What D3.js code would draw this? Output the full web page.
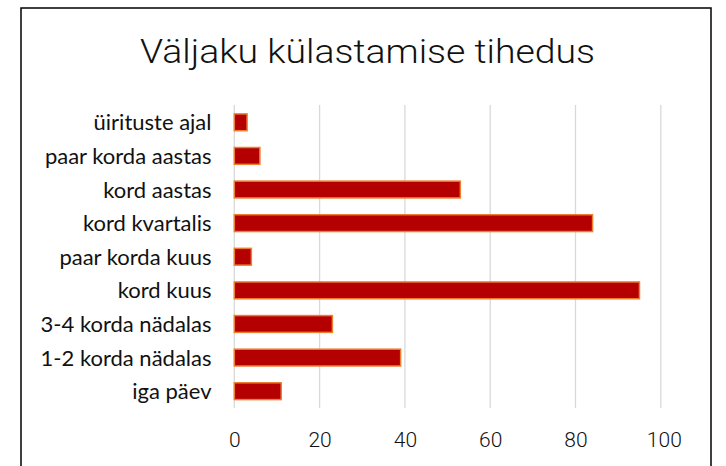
<!DOCTYPE html>
<html><head><meta charset="utf-8">
<script src="https://cdn.jsdelivr.net/npm/d3@7"></script>
<style>body{margin:0;background:#fff}</style>
</head><body>
<svg id="c" width="726" height="466"></svg>
<script>
const title = "Väljaku külastamise tihedus";
const categories = ["üirituste ajal","paar korda aastas","kord aastas","kord kvartalis","paar korda kuus","kord kuus","3-4 korda nädalas","1-2 korda nädalas","iga päev"];
const values = [3,6,53,84,4,95,23,39,11];
const ticks = [0,20,40,60,80,100];

const svg = d3.select("#c");
svg.append("rect").attr("x",21).attr("y",8).attr("width",690).attr("height",470)
  .attr("fill","#fff").attr("stroke","#000").attr("stroke-width",1.5);

svg.append("text").attr("x",367.5).attr("y",63).attr("text-anchor","middle")
  .attr("font-family","Roboto").attr("font-weight",300).attr("font-size",34)
  .attr("textLength",455).attr("lengthAdjust","spacingAndGlyphs")
  .attr("fill","#111").text(title);

const x = d3.scaleLinear().domain([0,100]).range([234.3,660.8]);
const y = d3.scaleBand().domain(categories).range([105.5,408]).paddingInner(0.5).paddingOuter(0.25);

svg.append("g").selectAll("line").data(ticks).join("line")
  .attr("x1",d=>x(d)).attr("x2",d=>x(d)).attr("y1",105).attr("y2",408)
  .attr("stroke","#d9d9d9").attr("stroke-width",1.3);

const xa = svg.append("g").attr("transform","translate(0,447)")
  .call(d3.axisBottom(x).tickValues(ticks).tickSize(0).tickPadding(0).tickFormat(d3.format("d")));
xa.select(".domain").remove();
xa.selectAll("text").attr("font-family","Roboto").attr("font-weight",300).attr("font-size",21)
  .attr("fill","#111").attr("dy",0).attr("y",0).attr("dx",d=>d===100?3:0);

const ya = svg.append("g").attr("transform","translate(211.5,0)")
  .call(d3.axisLeft(y).tickSize(0).tickPadding(0));
ya.select(".domain").remove();
const lbl = ya.selectAll("text").attr("font-family","Lato").attr("font-size",20).attr("fill","#111")
  .attr("dy",0).attr("y",8);
let w = 0; lbl.each(function(){ w = Math.max(w, this.getComputedTextLength()); });
lbl.attr("font-size",20*171/w);

svg.append("g").selectAll("rect").data(categories).join("rect")
  .attr("x",x(0)).attr("y",d=>y(d)).attr("width",(d,i)=>x(values[i])-x(0)).attr("height",y.bandwidth())
  .attr("fill","#b40000").attr("stroke","#ed7d31").attr("stroke-width",1.5);
</script>
</body></html>
